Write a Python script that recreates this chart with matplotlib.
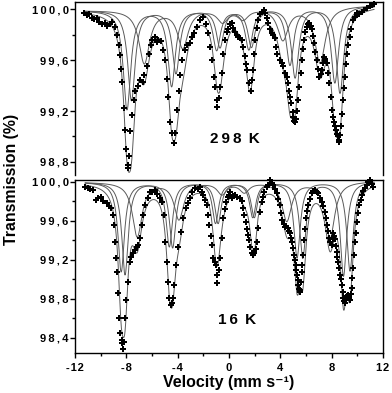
import numpy as np
import matplotlib
matplotlib.use('Agg')
from matplotlib import pyplot as plt
from matplotlib.ticker import MultipleLocator

# ---- 298 K measured points (velocity mm/s, transmission %) ----
v_298 = [-11.3, -11.1, -10.9, -10.7, -10.5, -10.3, -10.1, -9.9, -9.7, -9.5, -9.3, -9.1, -8.9, -8.7,
         -8.6, -8.5, -8.4, -8.3, -8.2, -8.1, -8.0, -7.9, -7.85, -7.8, -7.7, -7.55, -7.4, -7.3, -7.1,
         -6.9, -6.7, -6.6, -6.4, -6.25, -6.1, -6.0, -5.8, -5.6, -5.5, -5.3, -5.15, -5.0, -4.85, -4.75,
         -4.6, -4.45, -4.3, -4.2, -4.05, -3.9, -3.8, -3.7, -3.45, -3.25, -3.05, -2.85, -2.7, -2.5,
         -2.25, -2.0, -1.8, -1.6, -1.45, -1.35, -1.2, -1.1, -0.96, -0.9, -0.8, -0.7, -0.57, -0.44,
         -0.31, -0.15, -0.05, 0.1, 0.21, 0.35, 0.47, 0.6, 0.73, 0.85, 0.99, 1.1, 1.25, 1.35, 1.43,
         1.59, 1.7, 1.78, 1.85, 1.95, 2.03, 2.15, 2.29, 2.45, 2.55, 2.7, 2.81, 2.95, 3.07, 3.2, 3.33,
         3.45, 3.59, 3.7, 3.77, 3.98, 4.1, 4.24, 4.4, 4.5, 4.6, 4.68, 4.76, 4.84, 4.95, 5.02, 5.1,
         5.17, 5.25, 5.33, 5.41, 5.49, 5.58, 5.67, 5.76, 5.85, 5.95, 6.06, 6.16, 6.26, 6.36, 6.45,
         6.55, 6.63, 6.74, 6.84, 6.95, 7.05, 7.15, 7.23, 7.32, 7.41, 7.5, 7.62, 7.72, 7.83, 7.92,
         8.01, 8.1, 8.2, 8.28, 8.35, 8.42, 8.48, 8.55, 8.61, 8.68, 8.74, 8.8, 8.87, 8.93, 9.0, 9.1,
         9.18, 9.28, 9.39, 9.5, 9.65, 9.8, 9.96, 10.15, 10.35, 10.55, 10.74, 10.95, 11.13, 11.3]
t_298 = [99.97, 99.95, 99.96, 99.93, 99.92, 99.93, 99.90, 99.88, 99.89, 99.87, 99.88, 99.90, 99.86,
         99.80, 99.72, 99.64, 99.53, 99.43, 99.22, 99.05, 98.90, 98.75, 98.78, 98.85, 99.04, 99.17,
         99.29, 99.36, 99.40, 99.44, 99.43, 99.48, 99.55, 99.65, 99.72, 99.76, 99.78, 99.74, 99.76,
         99.75, 99.68, 99.60, 99.45, 99.31, 99.11, 99.03, 98.95, 99.03, 99.21, 99.36, 99.48, 99.60,
         99.68, 99.72, 99.73, 99.78, 99.81, 99.86, 99.91, 99.94, 99.88, 99.81, 99.70, 99.60, 99.47,
         99.39, 99.29, 99.23, 99.30, 99.39, 99.50, 99.65, 99.76, 99.82, 99.84, 99.88, 99.89, 99.85,
         99.82, 99.80, 99.78, 99.77, 99.76, 99.70, 99.63, 99.57, 99.52, 99.42, 99.36, 99.44, 99.52,
         99.65, 99.76, 99.85, 99.91, 99.96, 99.98, 99.99, 99.97, 99.93, 99.89, 99.84, 99.81, 99.80,
         99.77, 99.70, 99.65, 99.60, 99.58, 99.55, 99.50, 99.47, 99.42, 99.36, 99.31, 99.26, 99.19,
         99.15, 99.12, 99.11, 99.14, 99.20, 99.29, 99.39, 99.50, 99.60, 99.69, 99.76, 99.82, 99.86,
         99.88, 99.89, 99.87, 99.84, 99.79, 99.73, 99.66, 99.60, 99.53, 99.47, 99.49, 99.52, 99.58,
         99.62, 99.61, 99.58, 99.50, 99.42, 99.31, 99.21, 99.15, 99.11, 99.08, 99.05, 99.02, 99.00,
         98.97, 98.96, 99.01, 99.08, 99.18, 99.29, 99.38, 99.47, 99.57, 99.65, 99.72, 99.78, 99.84,
         99.91, 99.94, 99.97, 99.96, 99.98, 99.99, 100.01, 100.02, 100.03, 100.04]

# ---- 16 K measured points ----
v_16 = [-11.2, -11.0, -10.8, -10.6, -10.4, -10.2, -10.0, -9.8, -9.5, -9.35, -9.2, -9.05, -8.96, -8.9,
        -8.82, -8.75, -8.66, -8.55, -8.47, -8.36, -8.3, -8.24, -8.16, -8.1, -8.05, -7.9, -7.75, -7.6,
        -7.45, -7.35, -7.2, -7.1, -6.95, -6.8, -6.67, -6.55, -6.3, -6.15, -6.0, -5.8, -5.6, -5.4,
        -5.25, -5.1, -4.98, -4.86, -4.73, -4.65, -4.55, -4.47, -4.39, -4.28, -4.13, -3.95, -3.77,
        -3.56, -3.35, -3.2, -3.04, -2.85, -2.65, -2.45, -2.26, -2.1, -2.0, -1.87, -1.74, -1.63, -1.53,
        -1.44, -1.35, -1.22, -1.1, -1.01, -0.95, -0.9, -0.8, -0.7, -0.57, -0.44, -0.33, -0.23, -0.1,
        -0.02, 0.1, 0.21, 0.35, 0.47, 0.65, 0.86, 1.0, 1.12, 1.2, 1.3, 1.38, 1.46, 1.55, 1.64, 1.77,
        1.88, 1.98, 2.07, 2.16, 2.29, 2.42, 2.55, 2.65, 2.76, 2.94, 3.05, 3.2, 3.33, 3.46, 3.6, 3.72,
        3.85, 3.98, 4.08, 4.16, 4.27, 4.37, 4.47, 4.57, 4.66, 4.76, 4.85, 4.94, 5.0, 5.07, 5.13, 5.2,
        5.25, 5.3, 5.36, 5.41, 5.46, 5.51, 5.56, 5.61, 5.67, 5.72, 5.78, 5.85, 5.92, 6.0, 6.1, 6.19,
        6.3, 6.45, 6.58, 6.71, 6.84, 6.97, 7.1, 7.23, 7.36, 7.49, 7.58, 7.67, 7.75, 7.82, 7.9, 8.0,
        8.07, 8.13, 8.2, 8.26, 8.33, 8.39, 8.45, 8.52, 8.58, 8.65, 8.72, 8.78, 8.85, 8.91, 8.97, 9.04,
        9.1, 9.17, 9.23, 9.3, 9.36, 9.43, 9.5, 9.56, 9.62, 9.69, 9.75, 9.82, 9.88, 9.95, 10.05,
        10.16, 10.25, 10.34, 10.47, 10.6, 10.73, 10.86, 10.99, 11.12, 11.25]
t_16 = [99.95, 99.94, 99.93, 99.92, 99.82, 99.84, 99.85, 99.80, 99.78, 99.75, 99.73, 99.66, 99.56,
        99.38, 99.22, 99.08, 98.86, 98.60, 98.45, 98.38, 98.35, 98.29, 98.36, 98.60, 98.79, 98.97,
        99.18, 99.23, 99.27, 99.30, 99.33, 99.35, 99.43, 99.56, 99.66, 99.76, 99.84, 99.90, 99.90,
        99.92, 99.88, 99.84, 99.79, 99.66, 99.38, 99.18, 98.97, 98.81, 98.74, 98.76, 98.81, 98.94,
        99.15, 99.33, 99.49, 99.63, 99.73, 99.78, 99.84, 99.90, 99.94, 99.93, 99.95, 99.90, 99.87,
        99.82, 99.76, 99.66, 99.56, 99.45, 99.35, 99.22, 99.18, 99.15, 99.05, 98.96, 99.10, 99.22,
        99.43, 99.63, 99.72, 99.79, 99.85, 99.87, 99.90, 99.84, 99.86, 99.87, 99.85, 99.84, 99.80,
        99.73, 99.66, 99.59, 99.52, 99.46, 99.40, 99.33, 99.27, 99.25, 99.27, 99.31, 99.38, 99.53,
        99.69, 99.79, 99.85, 99.90, 99.95, 99.97, 100.02, 99.99, 99.97, 99.93, 99.89, 99.83, 99.76,
        99.68, 99.61, 99.57, 99.54, 99.55, 99.53, 99.50, 99.48, 99.43, 99.38, 99.32, 99.25, 99.20,
        99.15, 99.10, 99.05, 98.99, 98.94, 98.90, 98.87, 98.89, 98.97, 99.08, 99.15, 99.25, 99.40,
        99.52, 99.63, 99.70, 99.76, 99.83, 99.89, 99.91, 99.92, 99.90, 99.89, 99.84, 99.79, 99.75,
        99.69, 99.63, 99.56, 99.50, 99.43, 99.38, 99.35, 99.42, 99.48, 99.45, 99.41, 99.34, 99.28,
        99.23, 99.18, 99.12, 99.05, 99.00, 98.94, 98.87, 98.81, 98.78, 98.76, 98.79, 98.81, 98.83,
        98.84, 98.81, 98.79, 98.85, 98.91, 99.02, 99.12, 99.25, 99.38, 99.48, 99.59, 99.68, 99.76,
        99.82, 99.87, 99.91, 99.94, 99.97, 100.00, 100.02, 99.98, 99.95]

# ---- fitted sextets: line positions (mm/s), line depths (%), half widths ----
pos_298 = [[-7.95, -4.47, -0.96, 1.55, 5.15, 8.65],
           [-7.60, -4.13, -0.70, 1.75, 4.75, 8.25],
           [-6.60, -3.60, -0.50, 1.10, 4.20, 7.10]]
depth_298 = [[0.78, 0.60, 0.32, 0.32, 0.55, 0.68],
             [0.71, 0.50, 0.30, 0.30, 0.45, 0.60],
             [0.42, 0.30, 0.10, 0.08, 0.25, 0.44]]
hw_298 = [0.35, 0.35, 0.5]
base_298 = [99.99, 100.03]

pos_16 = [[-8.40, -4.65, -1.05, 1.85, 5.30, 9.43],
          [-8.10, -4.39, -0.85, 1.97, 5.75, 8.92],
          [-7.15, -3.90, -0.55, 1.20, 4.50, 7.87]]
depth_16 = [[0.92, 0.66, 0.42, 0.36, 0.78, 0.92],
            [0.95, 0.67, 0.42, 0.36, 0.78, 0.97],
            [0.56, 0.38, 0.12, 0.10, 0.40, 0.58]]
hw_16 = [0.3, 0.3, 0.45]
base_16 = [100.0, 100.01]

fit_range = [-11.2, 11.3]

x_ticks = [-12, -8, -4, 0, 4, 8, 12]
x_labels = ['-12', '-8', '-4', '0', '4', '8', '12']
y_ticks_298 = [98.8, 99.2, 99.6, 100.0]
y_labels_298 = ['98,8', '99,2', '99,6', '100,0']
y_ticks_16 = [98.4, 98.8, 99.2, 99.6, 100.0]
y_labels_16 = ['98,4', '98,8', '99,2', '99,6', '100,0']

THIN = '\u2009'
HAIR = '\u200a'


def spaced(text, sep=THIN):
    return sep.join(text)


def sextet(v, pos, depth, hw):
    out = np.zeros_like(v)
    for p, d in zip(pos, depth):
        out += d / (1 + ((v - p) / hw) ** 2)
    return out


def draw_panel(ax, v_pts, t_pts, pos, depth, hw, base):
    v = np.linspace(fit_range[0], fit_range[1], 800)
    baseline = base[0] + (base[1] - base[0]) * (v - v[0]) / (v[-1] - v[0])
    total = np.zeros_like(v)
    for p, d, w in zip(pos, depth, hw):
        comp = sextet(v, p, d, w)
        total += comp
        ax.plot(v, baseline - comp, color='#5a5a5a', lw=0.7)
    ax.plot(v, baseline - total, color='#5a5a5a', lw=0.7)
    ax.plot(v_pts, t_pts, ls='none', marker='P', ms=4.2, mew=0, color='black', clip_on=False)


plt.rcParams['font.family'] = ['Liberation Sans', 'DejaVu Sans']
plt.rcParams['font.weight'] = 'bold'

fig = plt.figure(figsize=(3.92, 3.93), dpi=100)
ax_top = fig.add_axes([75 / 392, 1 - 175 / 393, 308 / 392, 173 / 393])
ax_bot = fig.add_axes([75 / 392, 1 - 353 / 393, 308 / 392, 173 / 393])

draw_panel(ax_top, v_298, t_298, pos_298, depth_298, hw_298, base_298)
draw_panel(ax_bot, v_16, t_16, pos_16, depth_16, hw_16, base_16)

for ax in (ax_top, ax_bot):
    ax.set_xlim(-12, 12)
    for s in ax.spines.values():
        s.set_linewidth(1.0)
    ax.tick_params(which='major', direction='out', length=3.5, width=1.0, labelsize=8, pad=1)
    ax.tick_params(which='minor', direction='out', length=2.0, width=1.0)
    ax.yaxis.set_minor_locator(MultipleLocator(0.2))

ax_top.set_ylim(98.698, 100.055)
ax_top.set_yticks(y_ticks_298, labels=[spaced(s) for s in y_labels_298])
ax_top.spines['bottom'].set_visible(False)
ax_top.set_xticks([])
ax_top.set_xticks([], minor=True)

ax_bot.set_ylim(98.246, 100.02)
ax_bot.set_yticks(y_ticks_16, labels=[spaced(s) for s in y_labels_16])
ax_bot.set_xticks(x_ticks, labels=[spaced(s, HAIR) for s in x_labels])
ax_bot.xaxis.set_minor_locator(MultipleLocator(2))
ax_bot.tick_params(axis='x', which='major', pad=4)

ax_top.text(0.47, 98.984, '2' + THIN + '9' + THIN + '8' + THIN + ' K', fontsize=11,
            ha='center', va='center')
ax_bot.text(0.63, 98.585, '1' + THIN + '6' + THIN + ' K', fontsize=11, ha='center', va='center')

fig.text(229 / 392, 1 - 382.5 / 393, 'Velocity (mm s\u207b\u00b9)',
         fontsize=11.5, ha='center', va='center')
fig.text(12 / 392, 1 - 179 / 393, 'Transmission (%)', rotation=90,
         fontsize=11.4, ha='center', va='center')

fig.savefig('out.png', dpi=100)
